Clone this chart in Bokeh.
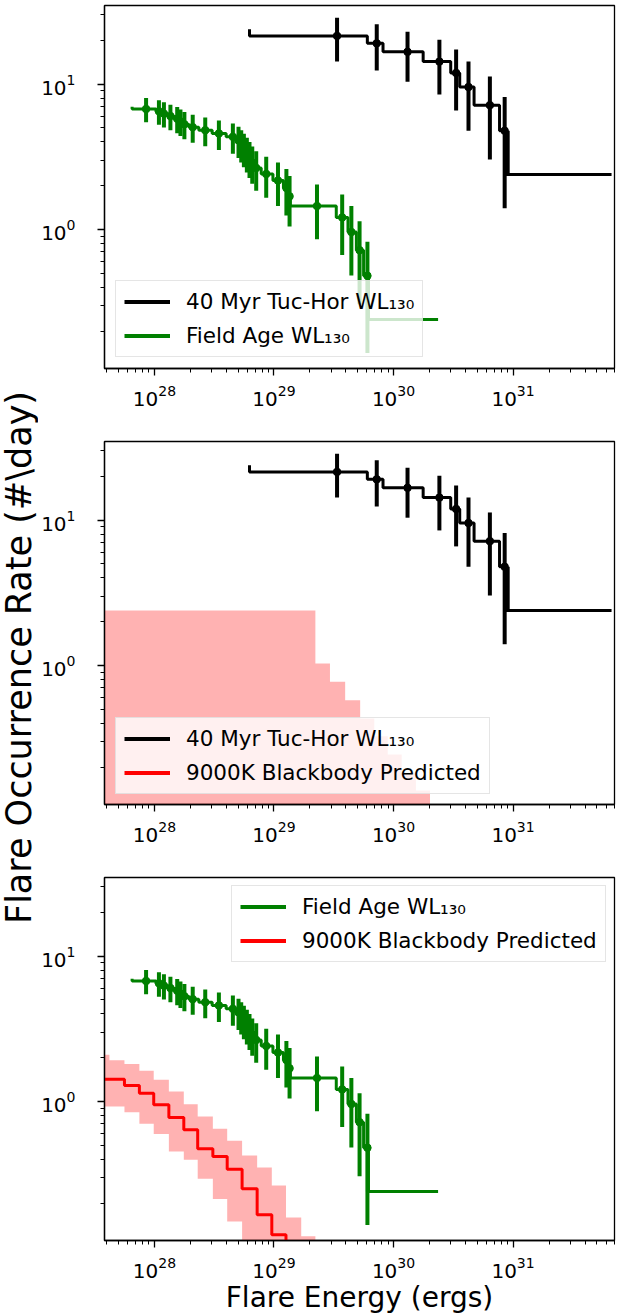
import math
from bokeh.plotting import figure
from bokeh.layouts import column, row
from bokeh.models import Legend, LegendItem, Range1d, FixedTicker
from bokeh.core.properties import value
from bokeh.embed import file_html
from bokeh.resources import INLINE

# ---------------- data ----------------
# 40 Myr Tuc-Hor WL130 (black): cumulative step + points with errors
tuc_step_energy = [6.24e28, 6.04e29, 8.17e29, 1.77e30, 3.01e30, 3.58e30, 4.72e30, 7.71e30, 8.71e30, 6.67e31]
tuc_step_rate = [23.9, 21.5, 19.1, 16.7, 14.3, 11.95, 9.56, 7.17, 4.78, 2.39]
tuc_pt_energy = [3.37e29, 7.24e29, 1.31e30, 2.42e30, 3.34e30, 4.24e30, 6.40e30, 8.51e30, 9.02e30]
tuc_pt_rate = [21.5, 19.1, 16.7, 14.3, 11.95, 9.56, 7.17, 4.78, 2.39]
tuc_err_lo = [14.3, 12.4, 10.4, 8.5, 6.6, 4.78, 3.03, 1.40, 2.39]
tuc_err_hi = [28.7, 25.9, 23.0, 20.2, 17.3, 14.3, 11.3, 8.16, 4.78]

# Field Age WL130 (green)
field_step_energy = [6.50e27, 1.03e28, 1.15e28, 1.29e28, 1.46e28, 1.60e28, 1.73e28, 1.94e28,
                     2.35e28, 3.04e28, 3.98e28, 4.83e28, 5.18e28, 5.46e28, 5.78e28, 6.08e28,
                     6.41e28, 6.82e28, 7.82e28, 9.80e28, 1.20e29, 1.31e29, 1.37e29, 3.32e29,
                     4.16e29, 4.89e29, 5.62e29, 6.11e29, 2.36e30]
field_step_rate = [6.99, 6.75, 6.51, 6.27, 6.03, 5.78, 5.54, 5.30, 5.06, 4.82, 4.58, 4.34, 4.10,
                   3.86, 3.62, 3.37, 3.13, 2.89, 2.65, 2.41, 2.17, 1.93, 1.69, 1.45, 1.21, 0.96,
                   0.72, 0.48, 0.24]
field_pt_energy = [8.51e27, 1.09e28, 1.20e28, 1.36e28, 1.55e28, 1.65e28, 1.78e28, 2.09e28,
                   2.66e28, 3.46e28, 4.53e28, 5.05e28, 5.32e28, 5.60e28, 5.93e28, 6.24e28,
                   6.58e28, 7.10e28, 8.61e28, 1.08e29, 1.27e29, 1.35e29, 2.29e29, 3.72e29,
                   4.44e29, 5.20e29, 6.05e29, 6.11e29]
field_pt_rate = [6.75, 6.51, 6.27, 6.03, 5.78, 5.54, 5.30, 5.06, 4.82, 4.58, 4.34, 4.10, 3.86,
                 3.62, 3.37, 3.13, 2.89, 2.65, 2.41, 2.17, 1.93, 1.69, 1.45, 1.21, 0.96, 0.72,
                 0.48, 0.24]
field_err_lo = [5.47, 5.26, 5.04, 4.82, 4.60, 4.39, 4.17, 3.96, 3.74, 3.53, 3.32, 3.10, 2.89,
                2.68, 2.47, 2.26, 2.06, 1.85, 1.65, 1.45, 1.25, 1.05, 0.856, 0.666, 0.482,
                0.306, 0.141, 0.24]
field_err_hi = [8.02, 7.76, 7.50, 7.23, 6.96, 6.70, 6.43, 6.17, 5.90, 5.63, 5.36, 5.09, 4.82,
                4.55, 4.27, 4.00, 3.73, 3.45, 3.17, 2.89, 2.61, 2.33, 2.04, 1.74, 1.45, 1.14,
                0.823, 0.48]

# 9000K Blackbody predicted for field sample (panel 3): bin edges and per-bin values
bbf_edges = [3.16e27, 4.20e27, 5.61e27, 7.48e27, 9.86e27, 1.32e28, 1.76e28, 2.30e28,
             3.08e28, 4.06e28, 5.41e28, 7.23e28, 9.59e28, 1.26e29, 1.69e29, 2.22e29]
bbf_upper = [2.10, 1.92, 1.81, 1.63, 1.41, 1.17, 0.958, 0.788, 0.649, 0.537, 0.425, 0.351,
             0.264, 0.159, 0.118]
bbf_rate = [1.42, 1.42, 1.29, 1.14, 0.95, 0.776, 0.638, 0.472, 0.418, 0.342, 0.251, 0.166,
            0.121, 0.05, 0.05]
bbf_lower = [0.924, 0.924, 0.844, 0.703, 0.596, 0.453, 0.397, 0.294, 0.213, 0.149, 0.05,
             0.05, 0.05, 0.05, 0.05]

# 9000K Blackbody predicted for Tuc-Hor sample (panel 2)
bbt_edges = [3.16e27, 2.22e29, 2.94e29, 3.94e29, 5.26e29, 6.90e29, 8.95e29, 1.17e30,
             1.54e30, 2.02e30]
bbt_upper = [2.39, 1.03, 0.771, 0.577, 0.432, 0.326, 0.244, 0.182, 0.138]
bbt_lower = [0.05, 0.05, 0.05, 0.05, 0.05, 0.05, 0.05, 0.05, 0.05]

x_major = [1e28, 1e29, 1e30, 1e31]
y_major = [1, 10]

FONT = "DejaVu Sans"
BLACK = "#000000"
GREEN = "#008000"
RED = "#ff0000"
NAN = float("nan")

LABEL_W = 38
LEFT_BORDER = 60
FRAME_H = 363
TOPS = [5, 10, 10]
BOTTOMS = [63, 63, 67]


def make_fig(top, bottom, xlabel=None):
    p = figure(x_axis_type="log", y_axis_type="log",
               x_range=Range1d(3.82e27, 7.06e31), y_range=Range1d(0.1104, 34.8),
               frame_width=510, frame_height=FRAME_H,
               min_border_left=LEFT_BORDER, min_border_right=3,
               min_border_top=top, min_border_bottom=bottom,
               output_backend="svg", toolbar_location=None)
    p.outline_line_color = "black"
    p.outline_line_width = 1.3
    p.grid.visible = False
    p.background_fill_color = "white"
    p.border_fill_color = "white"
    x_minor = [m * 10.0 ** e for e in range(27, 32) for m in range(2, 10)]
    y_minor = [m * 10.0 ** e for e in range(-1, 2) for m in range(2, 10)]
    p.xaxis.ticker = FixedTicker(ticks=x_major, minor_ticks=x_minor)
    p.yaxis.ticker = FixedTicker(ticks=y_major, minor_ticks=y_minor)
    for ax in (p.xaxis[0], p.yaxis[0]):
        ax.major_tick_out = 7
        ax.major_tick_in = 0
        ax.minor_tick_out = 4
        ax.minor_tick_in = 0
        ax.major_tick_line_width = 1.3
        ax.minor_tick_line_width = 1
        ax.axis_line_width = 1.3
        ax.major_label_text_font = FONT
        ax.major_label_text_font_size = "20px"
        ax.major_label_text_color = "black"
        ax.axis_label_text_font = FONT
        ax.axis_label_text_font_size = "28px"
        ax.axis_label_text_font_style = "normal"
        ax.axis_label_text_color = "black"
    p.xaxis.major_label_standoff = 9
    p.yaxis.major_label_standoff = 22
    if xlabel:
        p.xaxis.axis_label = xlabel
        p.xaxis.axis_label_standoff = 0
    return p


def draw_tuc(p):
    p.step(x=tuc_step_energy, y=tuc_step_rate, mode="before", line_color=BLACK, line_width=3)
    p.segment(x0=tuc_pt_energy, y0=tuc_err_lo, x1=tuc_pt_energy, y1=tuc_err_hi,
              line_color=BLACK, line_width=4)
    p.scatter(x=tuc_pt_energy[:-1], y=tuc_pt_rate[:-1], size=7.5, color=BLACK)


def draw_field(p):
    p.step(x=field_step_energy, y=field_step_rate, mode="before", line_color=GREEN, line_width=3)
    p.segment(x0=field_pt_energy, y0=field_err_lo, x1=field_pt_energy, y1=field_err_hi,
              line_color=GREEN, line_width=4)
    p.scatter(x=field_pt_energy[:-1], y=field_pt_rate[:-1], size=7.5, color=GREEN)


def legend_line(p, color):
    return p.line(x=[NAN], y=[NAN], line_color=color, line_width=4)


def add_legend(p, items, loc):
    leg = Legend(items=items, location=loc, margin=0, padding=8, spacing=9,
                 glyph_width=46, glyph_height=25, label_height=25, label_standoff=16,
                 label_text_font=FONT, label_text_font_size="21.5px", label_text_color="black",
                 border_line_color="#cccccc", border_line_width=1,
                 background_fill_color="white", background_fill_alpha=0.8)
    p.add_layout(leg)


# ---------------- panel 1 ----------------
p1 = make_fig(TOPS[0], BOTTOMS[0])
draw_tuc(p1)
draw_field(p1)
add_legend(p1, [
    LegendItem(label="40 Myr Tuc-Hor WL\u2081\u2083\u2080", renderers=[legend_line(p1, BLACK)]),
    LegendItem(label="Field Age WL\u2081\u2083\u2080", renderers=[legend_line(p1, GREEN)]),
], (11, 11))

# ---------------- panel 2 ----------------
p2 = make_fig(TOPS[1], BOTTOMS[1])
p2.varea_step(x=bbt_edges, y1=bbt_lower + bbt_lower[-1:], y2=bbt_upper + bbt_upper[-1:],
              step_mode="after", fill_color=RED, fill_alpha=0.3)
draw_tuc(p2)
add_legend(p2, [
    LegendItem(label="40 Myr Tuc-Hor WL\u2081\u2083\u2080", renderers=[legend_line(p2, BLACK)]),
    LegendItem(label="9000K Blackbody Predicted", renderers=[legend_line(p2, RED)]),
], (11, 10))

# ---------------- panel 3 ----------------
p3 = make_fig(TOPS[2], BOTTOMS[2], xlabel="Flare Energy (ergs)")
p3.varea_step(x=bbf_edges, y1=bbf_lower + bbf_lower[-1:], y2=bbf_upper + bbf_upper[-1:],
              step_mode="after", fill_color=RED, fill_alpha=0.3)
p3.step(x=bbf_edges, y=bbf_rate + bbf_rate[-1:], mode="after", line_color=RED, line_width=3)
draw_field(p3)
add_legend(p3, [
    LegendItem(label="Field Age WL\u2081\u2083\u2080", renderers=[legend_line(p3, GREEN)]),
    LegendItem(label="9000K Blackbody Predicted", renderers=[legend_line(p3, RED)]),
], (127, 278))

# ---------------- shared y label ----------------
total_h = sum(TOPS) + sum(BOTTOMS) + 3 * FRAME_H
lab = figure(width=LABEL_W, height=total_h, x_range=Range1d(0, LABEL_W), y_range=Range1d(0, total_h),
             x_axis_location=None, y_axis_location=None, min_border=0,
             output_backend="svg", toolbar_location=None)
lab.outline_line_color = None
lab.grid.visible = False
lab.text(x=[18], y=[total_h - 657], text=["Flare Occurrence Rate (#\\day)"], angle=math.pi / 2,
         text_align="center", text_baseline="middle", text_font=value(FONT),
         text_font_size="35px", text_color="black")

layout = row(lab, column(p1, p2, p3))
open("out.html", "w").write(file_html(layout, INLINE, title="Flare frequency distributions"))
